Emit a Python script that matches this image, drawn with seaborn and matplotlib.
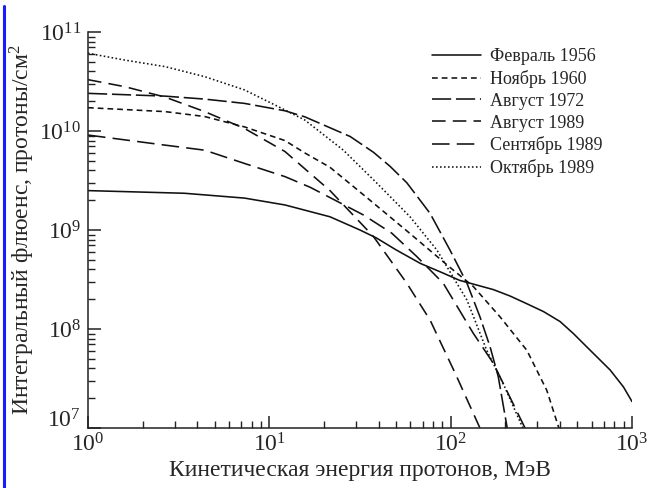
import numpy as np
import pandas as pd
import matplotlib
matplotlib.use("Agg")
import matplotlib.pyplot as plt
import seaborn as sns
from matplotlib.lines import Line2D
from matplotlib.ticker import LogLocator, NullFormatter

sns.set_theme(style="white")
plt.rcParams['font.family'] = ['Liberation Serif', 'DejaVu Serif']
plt.rcParams['mathtext.fontset'] = 'stix'

# ---- data ----
events = ["Февраль 1956", "Ноябрь 1960", "Август 1972", "Август 1989", "Сентябрь 1989", "Октябрь 1989"]

feb1956_E = [1, 3.4, 7.3, 12.2, 21.6, 31.6, 39, 50, 68, 90, 112, 172, 213, 263, 325, 401, 475, 563, 757, 897, 1000]
feb1956_F = [2.5e9, 2.35e9, 2.1e9, 1.79e9, 1.36e9, 1.0e9, 8.3e8, 6.3e8, 4.6e8, 3.7e8, 3.1e8, 2.5e8, 2.15e8,
             1.8e8, 1.5e8, 1.19e8, 9.0e7, 6.6e7, 3.86e7, 2.6e7, 1.85e7]

nov1960_E = [1, 2.66, 4.4, 7.3, 12.2, 15.7, 21.6, 35.9, 59.7, 99, 133, 187, 263, 339, 395]
nov1960_F = [1.72e10, 1.57e10, 1.4e10, 1.1e10, 8.0e9, 6.0e9, 4.3e9, 2.0e9, 9.2e8, 4.2e8, 2.7e8, 1.33e8,
             6.1e7, 2.4e7, 1.0e7]

aug1972_E = [1, 2.66, 4.4, 7.3, 12.2, 15.7, 27.9, 37.5, 46.3, 57.3, 67.8, 77, 99, 123, 145, 165, 183, 205]
aug1972_F = [2.4e10, 2.25e10, 2.1e10, 1.9e10, 1.6e10, 1.39e10, 8.8e9, 6.1e9, 4.4e9, 3.0e9, 2.0e9, 1.47e9,
             6.3e8, 2.9e8, 1.33e8, 6.6e7, 3.3e7, 1.0e7]

aug1989_E = [1, 1.6, 2.66, 4.4, 7.3, 12.2, 21.6, 37.5, 57.3, 77, 106, 145]
aug1989_F = [3.3e10, 2.8e10, 2.2e10, 1.57e10, 1.06e10, 6.2e9, 2.5e9, 8.6e8, 2.9e8, 1.23e8, 3.56e7, 1.0e7]

sep1989_E = [1, 2.66, 4.4, 7.3, 12.2, 16.8, 33, 47.3, 65, 91, 133, 172, 257]
sep1989_F = [9.1e9, 7.2e9, 6.4e9, 4.7e9, 3.46e9, 2.7e9, 1.42e9, 9.3e8, 5.4e8, 2.9e8, 9.1e7, 4.5e7, 1.0e7]

oct1989_E = [1, 1.6, 2.66, 4.4, 7.3, 12.2, 15.7, 25.6, 39, 59.7, 83.8, 123, 158, 195, 250]
oct1989_F = [6.1e10, 5.2e10, 4.47e10, 3.54e10, 2.6e10, 1.63e10, 1.29e10, 6.4e9, 3.0e9, 1.36e9, 6.3e8,
             1.96e8, 6.1e7, 2.8e7, 1.0e7]

series = [(feb1956_E, feb1956_F), (nov1960_E, nov1960_F), (aug1972_E, aug1972_F),
          (aug1989_E, aug1989_F), (sep1989_E, sep1989_F), (oct1989_E, oct1989_F)]

rows = []
for name, (E, F) in zip(events, series):
    for e, f in zip(E, F):
        rows.append({"E": e, "F": f, "event": name})
df = pd.DataFrame(rows)

dashes = {
    "Февраль 1956": "",
    "Ноябрь 1960": (3.6, 2.5),
    "Август 1972": (12, 3),
    "Август 1989": (8.5, 4.5),
    "Сентябрь 1989": (11, 4.5),
    "Октябрь 1989": (1.0, 1.5),
}

fig = plt.figure(figsize=(6.51, 4.88), dpi=100)
ax = fig.add_axes([88/651, 1-428/488, (632-88)/651, (428-32)/488])

sns.lineplot(data=df, x="E", y="F", hue="event", style="event",
             hue_order=events, style_order=events,
             palette=["#111111"]*6, dashes=dashes, sort=False,
             estimator=None, linewidth=1.15, ax=ax, legend=False)

ax.set_xscale("log")
ax.set_yscale("log")
ax.set_xlim(1, 1000)
ax.set_ylim(1e7, 1e11)

for sp in ["top", "right"]:
    ax.spines[sp].set_visible(False)
for sp in ["left", "bottom"]:
    ax.spines[sp].set_color("#222222")
    ax.spines[sp].set_linewidth(1.1)

ax.xaxis.set_major_locator(LogLocator(base=10, numticks=10))
ax.yaxis.set_major_locator(LogLocator(base=10, numticks=10))
ax.xaxis.set_minor_locator(LogLocator(base=10, subs=np.arange(2, 10), numticks=20))
ax.yaxis.set_minor_locator(LogLocator(base=10, subs=np.arange(2, 10), numticks=20))
ax.xaxis.set_minor_formatter(NullFormatter())
ax.yaxis.set_minor_formatter(NullFormatter())
ax.tick_params(which="major", direction="in", length=9, width=1.1, color="#222222",
               labelsize=17, pad=3, bottom=True, left=True)
ax.tick_params(which="minor", direction="in", length=5, width=1.0, color="#222222",
               bottom=True, left=True)
ax.tick_params(axis="x", which="major", pad=4)
ax.tick_params(axis="y", which="major", pad=5)

fig.canvas.draw()
for tk in ax.yaxis.get_major_ticks():
    if np.isclose(tk.get_loc(), 1e7):
        tk.label1.set_verticalalignment("baseline")

ax.set_xlabel("Кинетическая энергия протонов, МэВ", fontsize=17, labelpad=2)
ax.set_ylabel("Интегральный флюенс, протоны/см$^{\\mathdefault{2}}$", fontsize=17, labelpad=2)

handles = [Line2D([], [], color="#111111", linewidth=1.15,
                  linestyle=("-" if dashes[n] == "" else (0, dashes[n]))) for n in events]
ax.legend(handles, events, loc="upper right",
          bbox_to_anchor=((603-88)/544, (428-48)/396), frameon=False,
          fontsize=13, handlelength=2.7, labelspacing=0.27, handletextpad=0.55,
          borderpad=0, borderaxespad=0)

fig.add_artist(Line2D([4/651, 4/651], [0, 1-6/488], color="#1a1aff", linewidth=2.2))

fig.savefig("out.png", dpi=100)
